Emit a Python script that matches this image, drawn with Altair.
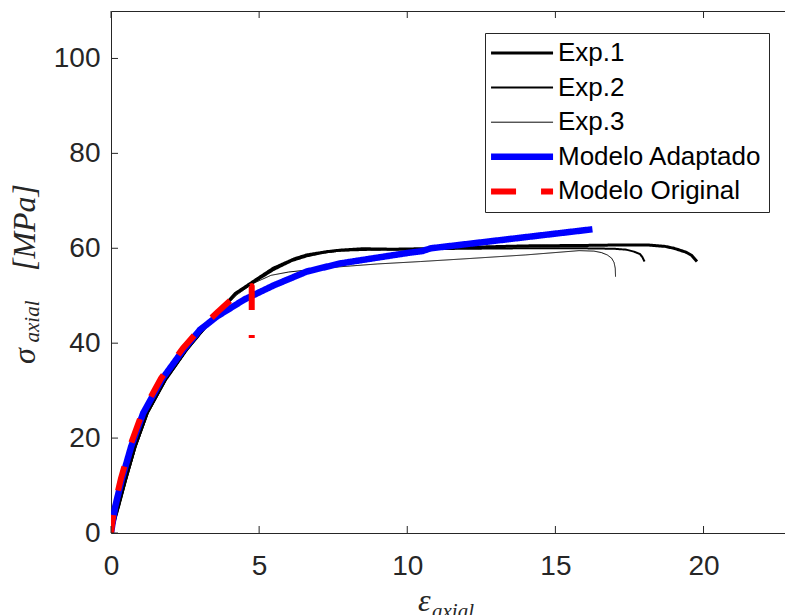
import altair as alt
import pandas as pd

# ---------------- data ----------------
series_names = ["Exp.1", "Exp.2", "Exp.3", "Modelo Adaptado", "Modelo Original"]
series_colors = ["#000000", "#000000", "#000000", "#0000ff", "#ff0000"]
series_widths = [3, 2, 1, 6.5, 6]
series_dash = [[1, 0], [1, 0], [1, 0], [1, 0], [25, 25]]

exp1_x = [0, 0.25, 0.49, 0.81, 1.22, 1.84, 2.55, 3.08, 3.6, 4.2, 4.8, 5.48, 6.2, 6.61, 7.3, 7.73,
          8.5, 9.5, 10.5, 12, 14, 16, 17.2, 18.1, 18.7, 19.0, 19.4, 19.6, 19.78]
exp1_y = [0, 5.5, 11.2, 18.2, 25.3, 32.3, 38.6, 42.6, 46.4, 50.5, 53.0, 55.8, 57.8, 58.6, 59.3, 59.6,
          59.9, 59.8, 59.9, 60.2, 60.5, 60.6, 60.7, 60.7, 60.4, 60.0, 59.2, 58.5, 57.2]

exp2_x = [0, 0.26, 0.51, 0.83, 1.24, 1.85, 2.56, 3.09, 3.62, 4.22, 4.82, 5.48, 6.1, 6.61, 7.2, 7.73,
          8.86, 10.5, 12, 14, 15.84, 16.97, 17.4, 17.65, 17.85, 17.93, 18.01]
exp2_y = [0, 5.5, 11.2, 18.2, 25.3, 32.3, 38.6, 42.6, 46.4, 50.4, 52.8, 55.4, 57.3, 58.3, 59.1, 59.5,
          59.7, 59.8, 59.9, 60.0, 60.0, 59.9, 59.7, 59.3, 58.8, 58.2, 57.2]

exp3_x = [0, 0.27, 0.52, 0.85, 1.26, 1.87, 2.58, 3.12, 3.65, 4.25, 4.8, 5.4, 6.0, 6.61, 7.73, 9.0,
          10.44, 12, 14, 15.8, 16.3, 16.55, 16.75, 16.9, 16.98, 17.02, 17.03]
exp3_y = [0, 5.5, 11.2, 18.2, 25.3, 32.3, 38.6, 42.6, 46.3, 50.2, 52.6, 54.3, 55.0, 55.4, 56.1, 56.7,
          57.2, 57.8, 58.6, 59.5, 59.4, 59.1, 58.6, 57.9, 57.0, 55.8, 54.0]

adapt_x = [0, 0.14, 0.36, 0.68, 1.09, 1.71, 2.44, 3.0, 3.57, 4.5, 5.5, 6.61, 7.73, 8.86, 10.0, 10.5,
           10.8, 16.25]
adapt_y = [0, 5.5, 11.2, 18.2, 25.3, 32.3, 38.6, 42.8, 45.6, 49.2, 52.2, 55.1, 56.8, 57.9, 59.0, 59.4,
           60.0, 64.0]

orig_x = [0, 0.12, 0.34, 0.66, 1.07, 1.69, 2.42, 3.0, 3.62, 4.24, 4.75, 4.75]
orig_y = [0, 5.8, 11.6, 18.6, 25.6, 32.6, 38.9, 43.0, 46.7, 50.2, 52.0, 41.1]

x_ticks = [0, 5, 10, 15, 20]
y_ticks = [0, 20, 40, 60, 80, 100]
x_domain = [0, 22.75]
y_domain = [0, 110]

y_title_parts = ["σ", "axial", "[MPa]"]
x_title_parts = ["ε", "axial"]

# ---------------- build table ----------------
rows = []
for k, (name, xs_, ys_) in enumerate(zip(series_names,
                                         [exp1_x, exp2_x, exp3_x, adapt_x, orig_x],
                                         [exp1_y, exp2_y, exp3_y, adapt_y, orig_y])):
    for i, (a, b) in enumerate(zip(xs_, ys_)):
        rows.append({"series": name, "x": a, "y": b, "i": i, "w": series_widths[k]})
df = pd.DataFrame(rows)

W, H = 674, 522
AX = "#262626"
xs = alt.Scale(domain=x_domain, nice=False, zero=False)
ys = alt.Scale(domain=y_domain, nice=False, zero=False)

x_axis = alt.Axis(values=x_ticks, title=None, ticks=False, tickSize=0, domain=False, grid=False,
                  labelFontSize=28, labelFont="Liberation Sans", labelColor=AX,
                  labelPadding=19, labelFlush=False, labelOverlap=False)
y_axis = alt.Axis(values=y_ticks, title=None, ticks=False, tickSize=0, domain=False, grid=False,
                  labelFontSize=28, labelFont="Liberation Sans", labelColor=AX,
                  labelPadding=11, labelOverlap=False)

width_expr = " : ".join(
    f"datum.value == '{n}' ? {w}" for n, w in zip(series_names[:-1], series_widths[:-1])
) + f" : {series_widths[-1]}"

legend = alt.Legend(title=None, orient="none", legendX=374, legendY=22,
                    symbolStrokeWidth=alt.ExprRef(width_expr))

lines = alt.Chart(df).mark_line(clip=True, strokeCap="butt", strokeJoin="round",
                                strokeDashOffset=7).encode(
    x=alt.X("x:Q", scale=xs, axis=x_axis),
    y=alt.Y("y:Q", scale=ys, axis=y_axis),
    color=alt.Color("series:N", scale=alt.Scale(domain=series_names, range=series_colors), legend=legend),
    strokeDash=alt.StrokeDash("series:N", scale=alt.Scale(domain=series_names, range=series_dash),
                              legend=legend),
    strokeWidth=alt.StrokeWidth("w:Q", scale=None, legend=None),
    order=alt.Order("i:Q"),
)

xt = pd.DataFrame({"x": x_ticks})
yt = pd.DataFrame({"y": y_ticks})
bottom_ticks = alt.Chart(xt).mark_rule(color=AX, strokeWidth=1).encode(
    x=alt.X("x:Q", scale=xs, axis=x_axis), y=alt.value(H), y2=alt.value(H - 7))
top_ticks = alt.Chart(xt).mark_rule(color=AX, strokeWidth=1).encode(
    x=alt.X("x:Q", scale=xs, axis=x_axis), y=alt.value(0), y2=alt.value(7))
left_ticks = alt.Chart(yt).mark_rule(color=AX, strokeWidth=1).encode(
    y=alt.Y("y:Q", scale=ys, axis=y_axis), x=alt.value(0), x2=alt.value(7))


def label(text, x, y, size, angle=0, align="center"):
    return alt.Chart(pd.DataFrame({"t": [text]})).mark_text(
        font="Liberation Serif", fontStyle="italic", fontSize=size, angle=angle,
        align=align, baseline="alphabetic", color=AX
    ).encode(x=alt.value(x), y=alt.value(y), text="t:N")


texts = [
    label(y_title_parts[0], -76, 345, 32, angle=270),
    label(y_title_parts[1], -72.5, 310.5, 21, angle=270),
    label(y_title_parts[2], -76, 216.5, 32, angle=270),
    label(x_title_parts[0], 307, 600, 32, align="left"),
    label(x_title_parts[1], 321, 607, 21, align="left"),
]

chart = alt.layer(lines, bottom_ticks, top_ticks, left_ticks, *texts).properties(
    width=W, height=H,
    autosize=alt.AutoSizeParams(type="none"),
    padding={"left": 111, "top": 11, "right": 0, "bottom": 82},
).configure_view(stroke=AX, strokeWidth=1).configure_legend(
    symbolType="M-4.5,0H15.5", symbolSize=38.44, labelFontSize=26, labelFont="Liberation Sans",
    labelColor="#000000", labelLimit=400, labelOffset=40, padding=7, rowPadding=8.6,
    strokeColor=AX, fillColor="#ffffff", cornerRadius=0,
)

chart.save("out.html", embed_options={"renderer": "svg", "actions": False})
